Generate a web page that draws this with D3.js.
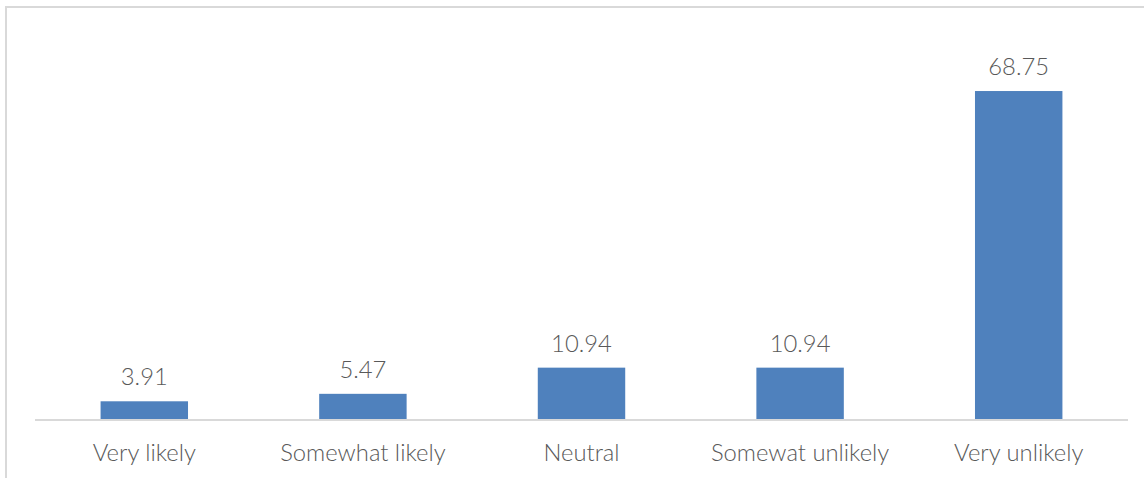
<!DOCTYPE html>
<html><head><meta charset="utf-8">
<script src="https://cdn.jsdelivr.net/npm/d3@7"></script>
<style>
html,body{margin:0;padding:0;background:#fff;}
svg{display:block;}
text{font-family:Lato,"Open Sans",sans-serif;font-weight:300;fill:#595959;}
</style></head>
<body>
<svg id="chart" width="1144" height="478"></svg>
<script>
const categories = ["Very likely","Somewhat likely","Neutral","Somewat unlikely","Very unlikely"];
const values = [3.91, 5.47, 10.94, 10.94, 68.75];

const svg = d3.select("#chart");
const W = 1144, H = 478;
const baseY = 420;

// frame
svg.append("rect").attr("x",6).attr("y",7).attr("width",W).attr("height",H)
  .attr("fill","none").attr("stroke","#d9d9d9").attr("stroke-width",2);

const x = d3.scaleBand().domain(categories).range([35,1128]).paddingInner(0.6).paddingOuter(0.3);
const y = d3.scaleLinear().domain([0,80]).range([baseY, baseY - 4.785*80]);

svg.selectAll("rect.bar").data(values).enter().append("rect")
  .attr("class","bar")
  .attr("x",(d,i)=>x(categories[i]))
  .attr("width",x.bandwidth())
  .attr("y",d=>y(d))
  .attr("height",d=>y(0)-y(d))
  .attr("fill","#4f81bd");

const axis = d3.axisBottom(x).tickSize(0);
const g = svg.append("g").attr("transform",`translate(0,${baseY})`).call(axis);
g.select(".domain").attr("stroke","#d9d9d9").attr("stroke-width",2).attr("d","M35,0H1128");
g.selectAll("text").attr("y",41).attr("dy",0)
  .style("font-size","23.8px").attr("fill","#595959").style("font-family","Lato, sans-serif").style("font-weight","300");

svg.selectAll("text.val").data(values).enter().append("text")
  .attr("class","val")
  .attr("x",(d,i)=>x(categories[i])+x.bandwidth()/2)
  .attr("y",d=>y(d)-16)
  .attr("text-anchor","middle")
  .style("font-size","23.8px")
  .text(d=>d.toFixed(2));
</script>
</body></html>
